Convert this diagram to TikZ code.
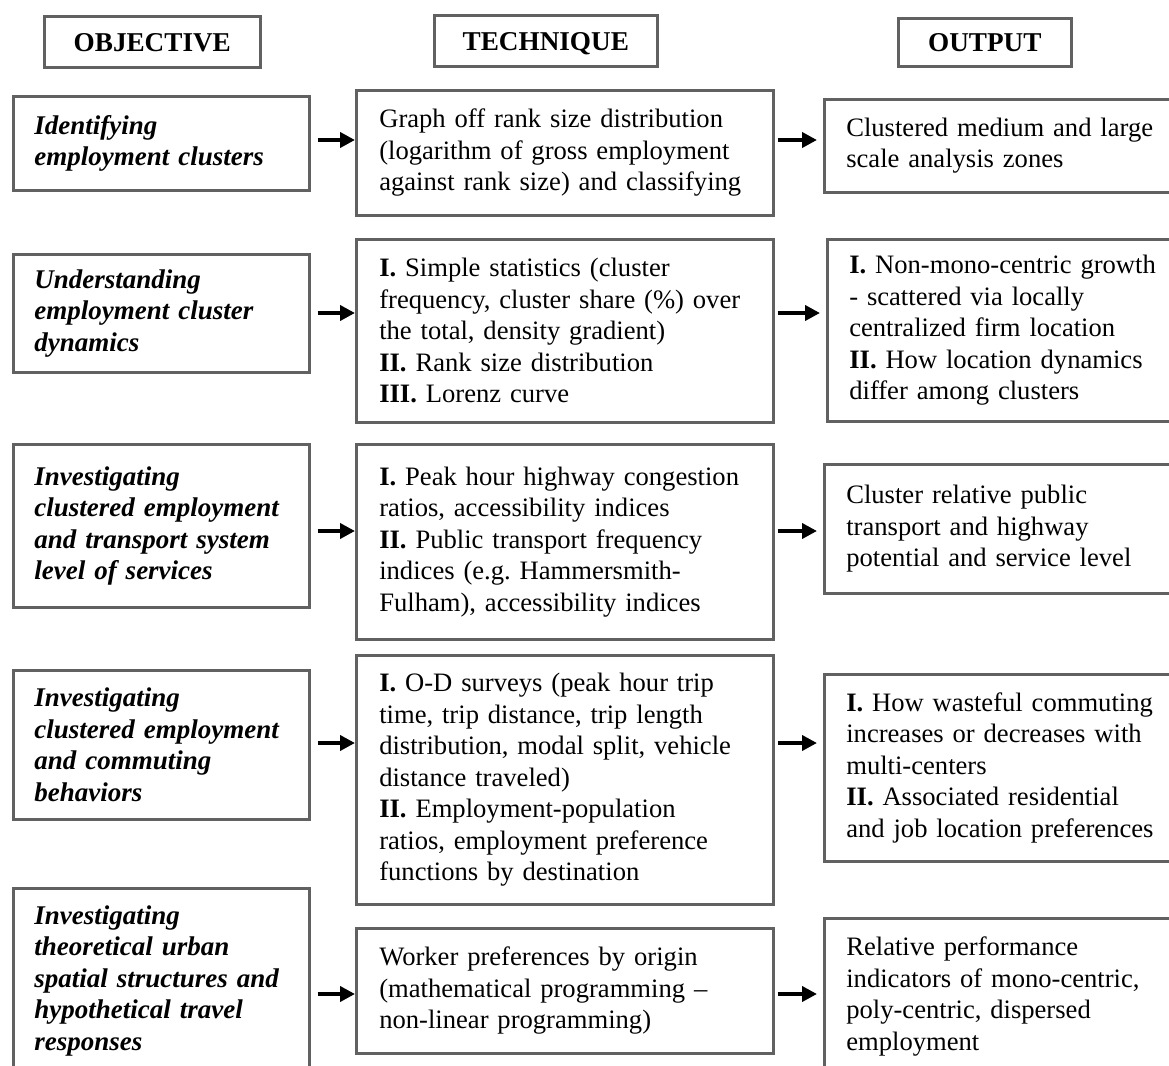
\documentclass[tikz,border=0pt]{standalone}
\usepackage{fontspec}
\setmainfont{Liberation Serif}
\usetikzlibrary{arrows.meta,calc}
\newcommand\stretchline[1]{\makebox[127pt][s]{#1}}
\frenchspacing
\begin{document}
\begin{tikzpicture}[x=0.5pt,y=-0.5pt,
  bx/.style={draw=black!62, line width=1.3pt, anchor=north west, align=left,
    inner ysep=0pt, text=black, font=\fontsize{13.3}{15.75}\selectfont},
  obj/.style={bx, inner xsep=10.5pt, text width=127pt, minimum width=148pt,
    font=\fontsize{13.5}{15.75}\selectfont\bfseries\itshape},
  tech/.style={bx, inner xsep=11.5pt, text width=185.5pt, minimum width=208.5pt},
  outp/.style={bx, inner xsep=11pt, text width=159pt, minimum width=181pt},
  hdr/.style={draw=black!62, line width=1.3pt, anchor=north west, inner sep=0pt,
    text height=9.2pt, text depth=0pt,
    font=\fontsize{13.6}{15.75}\selectfont\bfseries},
  arr/.style={-{Triangle[length=7.5pt,width=7.5pt]}, line width=2pt, black}]
\useasboundingbox (0,0) rectangle (1169,1066);
\clip (0,0) rectangle (1169,1066);
\fill[white] (0,0) rectangle (1169,1066);

% headers
\node[hdr, minimum width=108pt, minimum height=25.5pt] (h1) at (43,15) {OBJECTIVE};
\node[hdr, minimum width=111.5pt, minimum height=25.5pt] (h2) at (433,14) {TECHNIQUE};
\node[hdr, minimum width=86.5pt, minimum height=24pt] (h3) at (897,17) {OUTPUT};

% objectives
\node[obj, minimum height=47pt] (o1) at (12,95) {Identifying\\employment clusters};
\node[obj, minimum height=59pt] (o2) at (12,253) {Understanding\\employment cluster\\dynamics};
\node[obj, minimum height=81.5pt] (o3) at (12,443) {Investigating\\\stretchline{clustered employment}\\\stretchline{and transport system}\\level of services};
\node[obj, minimum height=74.5pt] (o4) at (12,669) {Investigating\\clustered employment\\and commuting\\behaviors};
\node[obj, minimum height=92.5pt] (o5) at (12,887) {Investigating\\theoretical urban\\spatial structures and\\hypothetical travel\\responses};

% techniques
\node[tech, minimum height=62.5pt] (t1) at (355,89) {Graph off rank size distribution\\(logarithm of gross employment\\against rank size) and classifying};
\node[tech, minimum height=91.5pt] (t2) at (355,238) {\textbf{I.} Simple statistics (cluster\\frequency, cluster share (\%) over\\the total, density gradient)\\\textbf{II.} Rank size distribution\\\textbf{III.} Lorenz curve};
\node[tech, minimum height=97.5pt] (t3) at (355,443) {\textbf{I.} Peak hour highway congestion\\ratios, accessibility indices\\\textbf{II.} Public transport frequency\\indices (e.g. Hammersmith-\\Fulham), accessibility indices};
\node[tech, minimum height=124.5pt] (t4) at (355,654) {\textbf{I.} O-D surveys (peak hour trip\\time, trip distance, trip length\\distribution, modal split, vehicle\\distance traveled)\\\textbf{II.} Employment-population\\ratios, employment preference\\functions by destination};
\node[tech, minimum height=62.5pt] (t5) at (355,927) {Worker preferences by origin\\(mathematical programming --\\non-linear programming)};

% outputs
\node[outp, minimum height=46.5pt] (u1) at (823,98) {Clustered medium and large\\scale analysis zones};
\node[outp, minimum height=91pt] (u2) at (826,238) {\textbf{I.} Non-mono-centric growth\\- scattered via locally\\centralized firm location\\\textbf{II.} How location dynamics\\differ among clusters};
\node[outp, minimum height=64.5pt] (u3) at (823,463) {Cluster relative public\\transport and highway\\potential and service level};
\node[outp, minimum height=93.5pt] (u4) at (823,673) {\textbf{I.} How wasteful commuting\\increases or decreases with\\multi-centers\\\textbf{II.} Associated residential\\and job location preferences};
\node[outp, minimum height=78pt] (u5) at (823,917) {Relative performance\\indicators of mono-centric,\\poly-centric, dispersed\\employment};

% arrow rows
\coordinate (a1) at (0,140);
\coordinate (a2) at (0,313);
\coordinate (a3) at (0,531);
\coordinate (a4) at (0,743);
\coordinate (a5) at (0,994);
\foreach \i in {1,...,5}{
  \draw[arr] ($(o\i.east |- a\i)+(7,0)$) -- (t\i.west |- a\i);
  \draw[arr] ($(t\i.east |- a\i)+(3,0)$) -- ($(u\i.west |- a\i)+(-6,0)$);
}
\end{tikzpicture}
\end{document}
